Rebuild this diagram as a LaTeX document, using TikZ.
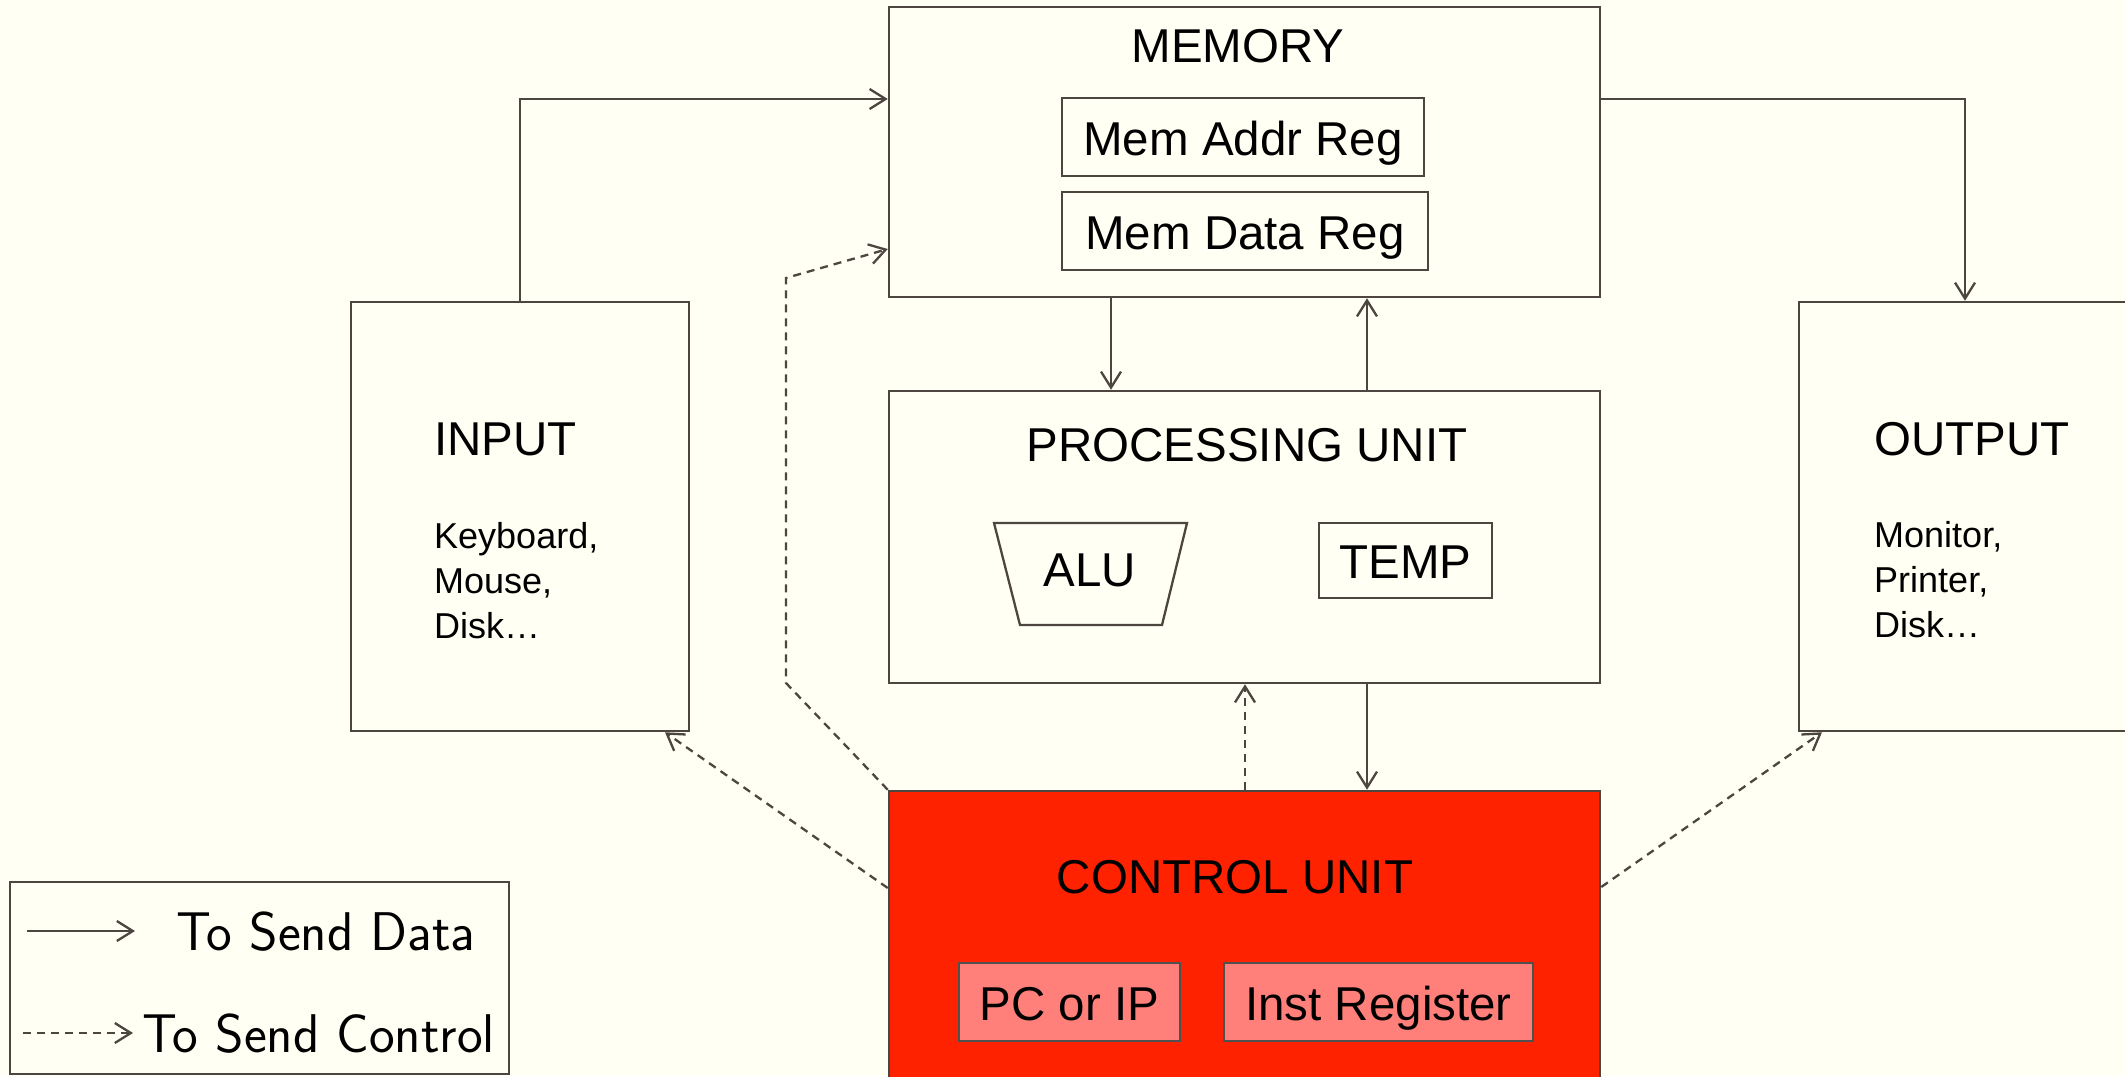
\documentclass[tikz,border=0pt]{standalone}
\usepackage{fontspec}
\setmainfont{Liberation Sans}
\usetikzlibrary{arrows.meta}

\definecolor{paper}{RGB}{255,255,243}
\definecolor{ink}{RGB}{77,70,64}
\definecolor{cured}{RGB}{255,34,0}
\definecolor{regpink}{RGB}{255,128,122}
\definecolor{reggray}{RGB}{80,80,80}

\tikzset{
  unit/.style={rectangle, draw=ink, line width=2.5pt, fill=paper, inner sep=0pt},
  regbox/.style={unit, text height=36pt, text depth=0pt,
                 font=\fontsize{47.5}{57}\selectfont},
  pinkreg/.style={regbox, draw=reggray, fill=regpink},
  title/.style={inner sep=0pt, anchor=base, font=\fontsize{47.5}{57}\selectfont},
  devlist/.style={inner sep=0pt, anchor=north west, align=left,
                  font=\fontsize{36}{45}\selectfont},
  legtxt/.style={inner sep=0pt, anchor=base west,
                 font=\sffamily\fontsize{54.5}{64}\selectfont},
  data/.style={draw=ink, line width=2.3pt,
               -{Straight Barb[length=16pt,width=20pt]}},
  ctrl/.style={data, dash pattern=on 8pt off 6pt},
}

\begin{document}
\begin{tikzpicture}[x=1pt, y=-1pt]
  % page and background
  \clip (0,0) rectangle (2125,1076);
  \fill[paper] (0,0) rectangle (2125,1076);

  % main units
  \node[unit, minimum width=711pt, minimum height=290pt] (mem) at (1244.5,152) {};
  \node[unit, minimum width=711pt, minimum height=292pt] (proc) at (1244.5,537) {};
  \node[unit, fill=cured, minimum width=711pt, minimum height=320pt] (cu) at (1244.5,951) {};
  \node[unit, minimum width=338pt, minimum height=429pt] (input) at (520,516.5) {};
  \node[unit, minimum width=332pt, minimum height=429pt] (output) at (1965,516.5) {};

  % memory registers
  \node[regbox, minimum width=362pt, minimum height=78pt] (mar) at (1243,137) {Mem Addr Reg};
  \node[regbox, minimum width=366pt, minimum height=78pt] (mdr) at (1245,231) {Mem Data Reg};

  % processing unit parts
  \draw[ink, line width=2.3pt] (994,523) -- (1187,523) -- (1162,625) -- (1020,625) -- cycle;
  \node[title] (alu) at (1090,586) {ALU};
  \node[regbox, minimum width=173pt, minimum height=75pt] (temp) at (1405.5,560.5) {TEMP};

  % control unit registers
  \node[pinkreg, minimum width=221pt, minimum height=78pt] (pc) at (1069.5,1002) {PC or IP};
  \node[pinkreg, minimum width=309pt, minimum height=78pt] (ir) at (1378.5,1002) {Inst Register};

  % titles
  \node[title] (memt) at (1238,62) {MEMORY};
  \node[title] (proct) at (1247,461) {PROCESSING UNIT};
  \node[title] (cut) at (1235,893) {CONTROL UNIT};
  \node[title, anchor=base west] (inputt) at (434,455) {INPUT};
  \node[title, anchor=base west] (outputt) at (1874,455) {OUTPUT};
  \node[devlist] (inlist) at (434,521.8) {Keyboard,\\Mouse,\\Disk\ldots};
  \node[devlist] (outlist) at (1874,521.3) {Monitor,\\Printer,\\Disk\ldots};

  % data paths
  \draw[data] (input.north) |- (mem.west |- 0,99);
  \draw[data] (mem.east |- 0,99) -| (output.north);
  \draw[data] (mem.south -| 1111,0) -- (proc.north -| 1111,0);
  \draw[data] (proc.north -| 1367,0) -- (mem.south -| 1367,0);
  \draw[data] (proc.south -| 1367,0) -- (cu.north -| 1367,0);

  % control paths
  \draw[ctrl] (cu.north -| 1245,0) -- (proc.south -| 1245,0);
  \draw[ctrl] (cu.north west) -- (786,683) -- (786,278) -- (mem.west |- 0,249);
  \draw[ctrl] (cu.west |- 0,888) -- (input.south -| 665,0);
  \draw[ctrl] (cu.east |- 0,887) -- (output.south -| 1822,0);

  % legend
  \node[unit, line width=2pt, minimum width=499pt, minimum height=192pt] (legend) at (259.5,978) {};
  \coordinate (lda) at (27,931);
  \coordinate (ldb) at (135,931);
  \coordinate (lca) at (23,1033);
  \coordinate (lcb) at (133,1033);
  \draw[data] (lda) -- (ldb);
  \draw[ctrl] (lca) -- (lcb);
  \node[legtxt] (legdata) at (176,950) {To Send Data};
  \node[legtxt] (legctrl) at (142,1052) {To Send Control};
\end{tikzpicture}
\end{document}
